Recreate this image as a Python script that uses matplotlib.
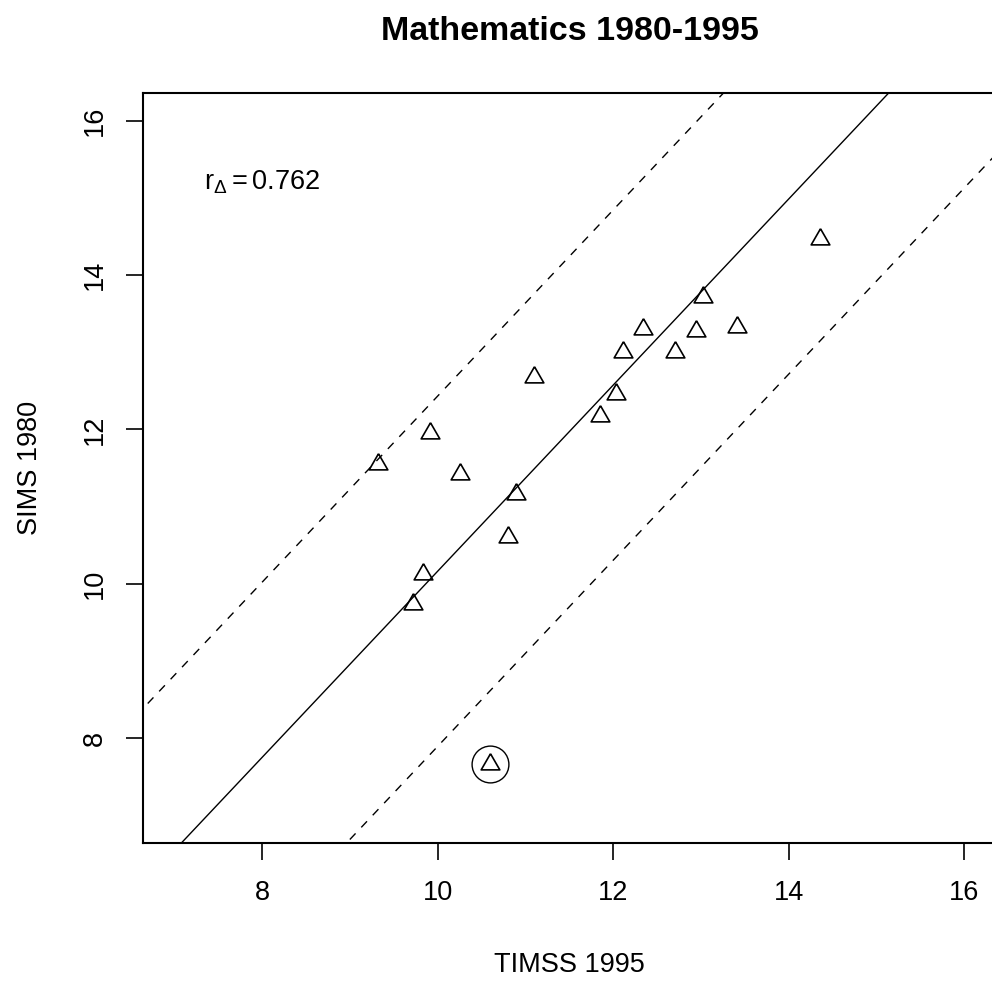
import numpy as np
import matplotlib
matplotlib.use("Agg")
from matplotlib import pyplot as plt

plt.rcParams['font.family'] = ['Liberation Sans', 'DejaVu Sans']
plt.rcParams['mathtext.fontset'] = 'custom'
plt.rcParams['mathtext.rm'] = 'Liberation Sans'
plt.rcParams['mathtext.it'] = 'Liberation Sans:italic'

# TIMSS 1995 vs SIMS 1980
timss = [9.32, 9.91, 10.25, 9.83, 9.72, 10.89, 10.80, 11.10, 10.59,
         11.85, 12.03, 12.11, 12.34, 12.70, 12.94, 13.02, 13.41, 14.36]
sims = [11.55, 11.95, 11.42, 10.13, 9.74, 11.16, 10.61, 12.68, 7.66,
        12.17, 12.46, 13.00, 13.30, 13.00, 13.27, 13.71, 13.33, 14.47]
outlier = 8  # index of circled point

intercept = -1.895
slope = 1.206
band = 2.27
r_delta = 0.762

fig = plt.figure(figsize=(9.92, 9.84), dpi=100)
ax = fig.add_axes([143/992, 141/984, 853/992, 750/984])

# equilateral triangle like R pch=2
tri = [(0, 1), (-0.866, -0.5), (0.866, -0.5), (0, 1)]
ax.plot(timss, sims, linestyle='none', marker=tri, markersize=15.5,
        markerfacecolor='none', markeredgecolor='black', markeredgewidth=1.2)
ax.plot(timss[outlier], sims[outlier], marker='o', markersize=26.5,
        markerfacecolor='none', markeredgecolor='black', markeredgewidth=1.0)

xs = np.array([5, 18])
ax.plot(xs, intercept + slope * xs, color='black', lw=1.0)
for off in (band, -band):
    ax.plot(xs, intercept + off + slope * xs, color='black', lw=1.0,
            dashes=(6, 6))

ax.text(8, 15.2, r'$\mathrm{r}_{\Delta} = %.3f$' % r_delta, fontsize=19.5,
        ha='center', va='center')

ax.set_xlim(6.64, 16.36)
ax.set_ylim(6.64, 16.36)
ax.set_xticks([8, 10, 12, 14, 16])
ax.set_yticks([8, 10, 12, 14, 16])
ax.tick_params(direction='out', length=12, width=1.2, labelsize=19.5, pad=15)
ax.tick_params(axis='y', pad=13)
for lab in ax.get_yticklabels():
    lab.set_rotation(90)
    lab.set_va('center')
for s in ax.spines.values():
    s.set_linewidth(1.5)

ax.set_xlabel('TIMSS 1995', fontsize=19.5, labelpad=33)
ax.set_ylabel('SIMS 1980', fontsize=19.5, labelpad=28)
ax.set_title('Mathematics 1980-1995', fontsize=24.5, fontweight='bold', pad=38)

fig.savefig('out.png', dpi=100)
